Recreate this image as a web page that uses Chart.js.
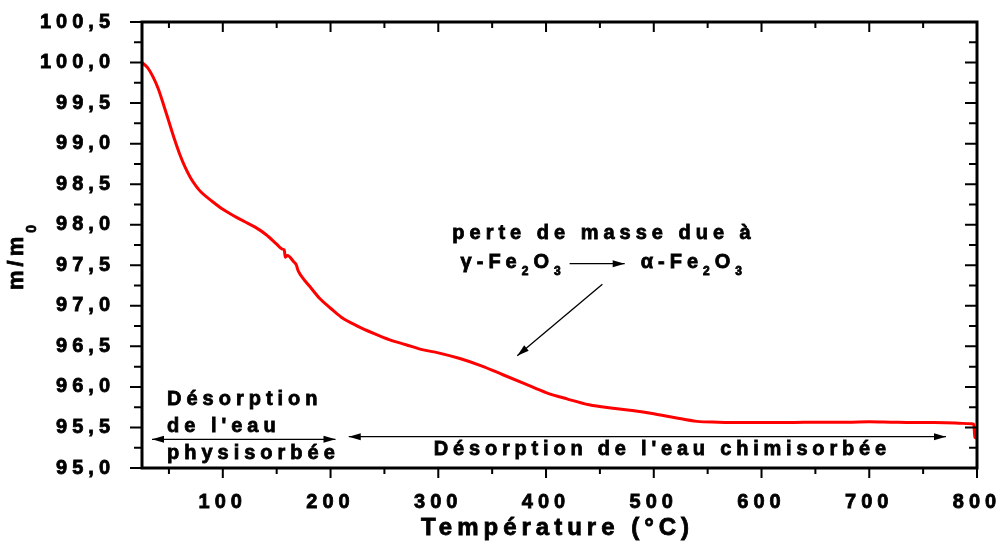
<!DOCTYPE html>
<html>
<head>
<meta charset="utf-8">
<script src="https://cdn.jsdelivr.net/npm/chart.js@4.4.0/dist/chart.umd.min.js"></script>
<style>
body{margin:0;background:#fff;}
#wrap{width:1002px;height:541px;}
</style>
</head>
<body>
<div id="wrap"><canvas id="tga_Chart" width="1002" height="541"></canvas></div>
<script>
// TGA curve
const temperature = [25, 30, 35, 40, 45, 50, 55, 60, 65, 70, 75, 80, 90, 100, 110, 120, 130, 140, 150, 155, 157, 158, 160, 166, 168, 170, 175, 180, 190, 200,
    210, 225, 240, 255, 270, 285, 300, 320, 340, 360, 380, 400, 420, 440, 460, 480, 500, 520, 540, 560, 580, 600, 620, 640, 660, 680,
    700, 720, 740, 760, 780, 795, 797, 798, 800];
const masse = [100.00, 99.94, 99.83, 99.68, 99.48, 99.27, 99.06, 98.87, 98.71, 98.58, 98.48, 98.40, 98.29, 98.19, 98.11, 98.04, 97.97, 97.88, 97.76, 97.70,
    97.69, 97.60, 97.62, 97.54, 97.51, 97.43, 97.33, 97.25, 97.09, 96.97, 96.86, 96.75, 96.66, 96.58, 96.52, 96.46, 96.42, 96.35, 96.26, 96.15,
    96.04, 95.93, 95.85, 95.78, 95.74, 95.71, 95.67, 95.62, 95.575, 95.565, 95.56, 95.56, 95.56, 95.565, 95.565, 95.565, 95.57, 95.565,
    95.56, 95.56, 95.555, 95.545, 95.54, 95.38, 95.37];

const xMajor = [100, 200, 300, 400, 500, 600, 700, 800];
const xMinor = [50, 150, 250, 350, 450, 550, 650, 750];
const yMajor = [95, 95.5, 96, 96.5, 97, 97.5, 98, 98.5, 99, 99.5, 100, 100.5];
const yMinor = [95.25, 95.75, 96.25, 96.75, 97.25, 97.75, 98.25, 98.75, 99.25, 99.75, 100.25];

const x_title = 'Température (°C)';
const y_title = 'm/m';
const y_title_sub = '0';

const FONT = '"Liberation Sans", Arial, sans-serif';

function put_text(ctx, s, x, y, size, align, spacing) {
    ctx.font = 'bold ' + size + 'px ' + FONT;
    ctx.letterSpacing = spacing + 'px';
    ctx.textAlign = align || 'left';
    ctx.textBaseline = 'alphabetic';
    ctx.lineWidth = 0.8;
    ctx.strokeStyle = '#000';
    ctx.fillText(s, x, y);
    ctx.strokeText(s, x, y);
    return ctx.measureText(s).width;
}

function arrow(ctx, x1, y1, x2, y2, head1, head2) {
    ctx.beginPath();
    ctx.moveTo(x1, y1);
    ctx.lineTo(x2, y2);
    ctx.lineWidth = 1.3;
    ctx.strokeStyle = '#000';
    ctx.stroke();
    const heads = [];
    if (head1) heads.push([x1, y1, x2, y2]);
    if (head2) heads.push([x2, y2, x1, y1]);
    heads.forEach(function (h) {
        const a = Math.atan2(h[3] - h[1], h[2] - h[0]);
        const L = 12, W = 3.5;
        ctx.beginPath();
        ctx.moveTo(h[0], h[1]);
        ctx.lineTo(h[0] + L * Math.cos(a) - W * Math.sin(a), h[1] + L * Math.sin(a) + W * Math.cos(a));
        ctx.lineTo(h[0] + L * Math.cos(a) + W * Math.sin(a), h[1] + L * Math.sin(a) - W * Math.cos(a));
        ctx.closePath();
        ctx.fillStyle = '#000';
        ctx.fill();
    });
}

// formula with subscripts: parts are [text, isSub]
function formula(ctx, parts, x, y) {
    parts.forEach(function (p) {
        if (p[1]) {
            x += put_text(ctx, p[0], x, y + 7, 12, 'left', 5);
        } else {
            x += put_text(ctx, p[0], x, y, 20, 'left', 5);
        }
    });
}

const framePlugin = {
    id: 'frame',
    beforeDraw(chart) {
        chart.ctx.letterSpacing = '5px';
    },
    afterDraw(chart) {
        const ctx = chart.ctx;
        const xs = chart.scales.x, ys = chart.scales.y;
        const a = chart.chartArea;
        ctx.save();
        ctx.strokeStyle = '#000';
        ctx.fillStyle = '#000';

        // ticks
        ctx.lineWidth = 2;
        function tickX(v, len) {
            const px = xs.getPixelForValue(v);
            ctx.beginPath();
            ctx.moveTo(px, a.bottom); ctx.lineTo(px, a.bottom + len);
            ctx.moveTo(px, a.top); ctx.lineTo(px, a.top + len);
            ctx.stroke();
        }
        function tickY(v, len) {
            const py = ys.getPixelForValue(v);
            ctx.beginPath();
            ctx.moveTo(a.left, py); ctx.lineTo(a.left - len, py);
            ctx.moveTo(a.right, py); ctx.lineTo(a.right - len, py);
            ctx.stroke();
        }
        xMajor.forEach(v => tickX(v, 10));
        xMinor.forEach(v => tickX(v, 6));
        yMajor.forEach(v => tickY(v, 12));
        yMinor.forEach(v => tickY(v, 8));

        // frame
        ctx.lineWidth = 3;
        ctx.strokeRect(a.left, a.top, a.right - a.left, a.bottom - a.top);

        // axis titles
        put_text(ctx, x_title, (a.left + a.right) / 2 - 2, 535, 24, 'center', 5);
        ctx.save();
        ctx.translate(22.5, 290);
        ctx.rotate(-Math.PI / 2);
        const w = put_text(ctx, y_title, 0, 0, 22, 'left', 4);
        put_text(ctx, y_title_sub, w, 13.5, 14, 'left', 4);
        ctx.restore();

        // annotations (placed in data units)
        const X = v => xs.getPixelForValue(v);
        const Y = v => ys.getPixelForValue(v);
        put_text(ctx, 'Désorption', X(48.2), Y(95.779), 20, 'left', 5);
        put_text(ctx, "de l'eau", X(48.2), Y(95.443), 20, 'left', 5);
        put_text(ctx, 'physisorbée', X(48.2), Y(95.115), 20, 'left', 5);
        arrow(ctx, X(34.3), Y(95.353), X(204.6), Y(95.353), true, true);

        arrow(ctx, X(216.9), Y(95.386), X(771.2), Y(95.386), true, true);
        put_text(ctx, "Désorption de l'eau chimisorbée", X(295.9), Y(95.156), 20, 'left', 4.8);

        put_text(ctx, 'perte de masse due à', X(313), Y(97.827), 20, 'left', 5);
        formula(ctx, [['γ-Fe', 0], ['2', 1], ['O', 0], ['3', 1]], X(320.7), Y(97.47));
        arrow(ctx, X(421.9), Y(97.52), X(473), Y(97.52), false, true);
        formula(ctx, [['α-Fe', 0], ['2', 1], ['O', 0], ['3', 1]], X(487.9), Y(97.47));
        arrow(ctx, X(452.3), Y(97.265), X(373.3), Y(96.385), false, true);

        ctx.restore();
    }
};

const tick_font = {family: FONT, size: 20, weight: 'bold'};

function no_pad(s) {
    s.paddingLeft = 0; s.paddingRight = 0; s.paddingTop = 0; s.paddingBottom = 0;
}

let ctx = document.getElementById('tga_Chart');
let stock_Chart = new Chart(ctx, {
    type: 'line',
    data: {
        datasets: [{
            label: 'm/m0',
            data: temperature.map((t, i) => ({x: t, y: masse[i]})),
            borderColor: '#ff0000',
            backgroundColor: '#ff0000',
            borderWidth: 3,
            pointRadius: 0,
            cubicInterpolationMode: 'monotone',
        }]
    },
    options: {
        responsive: false,
        animation: false,
        layout: {padding: {left: 0, right: 25, top: 22, bottom: 0}},
        plugins: {legend: {display: false}, tooltip: {enabled: false}},
        scales: {
            x: {
                type: 'linear',
                min: 25,
                max: 800,
                grid: {display: false},
                border: {display: false},
                afterBuildTicks: s => { s.ticks = xMajor.map(v => ({value: v})); },
                afterFit: s => { s.height = 73; no_pad(s); },
                ticks: {
                    autoSkip: false,
                    maxRotation: 0,
                    padding: 14,
                    color: '#000',
                    textStrokeColor: '#000',
                    textStrokeWidth: 0.8,
                    font: tick_font,
                    callback: v => String(v),
                },
            },
            y: {
                min: 95,
                max: 100.5,
                grid: {display: false},
                border: {display: false},
                afterBuildTicks: s => { s.ticks = yMajor.map(v => ({value: v})); },
                afterFit: s => { s.width = 142; no_pad(s); },
                ticks: {
                    padding: 19,
                    color: '#000',
                    textStrokeColor: '#000',
                    textStrokeWidth: 0.8,
                    font: tick_font,
                    callback: v => v.toFixed(1).replace('.', ','),
                },
            }
        }
    },
    plugins: [framePlugin]
});
</script>
</body>
</html>
